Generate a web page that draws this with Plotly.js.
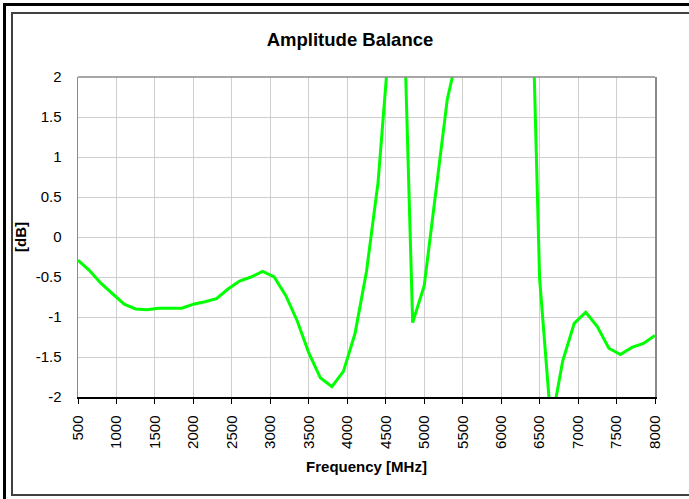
<!DOCTYPE html>
<html>
<head>
<meta charset="utf-8">
<script src="https://cdn.plot.ly/plotly-3.0.1.min.js"></script>
<style>
  html, body { margin: 0; padding: 0; background: #fff; }
  #wrap { position: relative; width: 689px; height: 499px; overflow: hidden; }
  #chart { position: absolute; left: 0; top: 0; width: 689px; height: 499px; }
  #outer { position: absolute; left: 3px; top: 3px; width: 800px; height: 800px;
           border-left: 3px solid #000; border-top: 3px solid #000; pointer-events: none; }
  #inner { position: absolute; left: 11px; top: 12px; width: 800px; height: 480px;
           border-left: 2px solid #404040; border-top: 2px solid #404040; border-bottom: 2px solid #404040; pointer-events: none; }
</style>
</head>
<body>
<div id="wrap">
  <div id="chart"></div>
  <div id="outer"></div>
  <div id="inner"></div>
</div>
<script>
// Frequency [MHz]
const frequency = [500, 650, 800, 950, 1100, 1250, 1400, 1550, 1700, 1850,
  2000, 2150, 2300, 2450, 2600, 2750, 2900, 3050, 3200, 3350,
  3500, 3650, 3800, 3950, 4100, 4250, 4400, 4550, 4700, 4850,
  5000, 5150, 5300, 5450, 5600, 5750, 5900, 6050, 6200, 6350,
  6500, 6650, 6800, 6950, 7100, 7250, 7400, 7550, 7700, 7850, 8000];
// Amplitude balance [dB]
const balance = [-0.29, -0.42, -0.58, -0.71, -0.84, -0.90, -0.91, -0.89, -0.89, -0.89,
  -0.84, -0.81, -0.77, -0.65, -0.55, -0.50, -0.43, -0.50, -0.73, -1.05,
  -1.45, -1.76, -1.87, -1.68, -1.21, -0.43, 0.68, 2.5, 4.05, -1.07,
  -0.61, 0.55, 1.72, 2.36, 3.2, 4.0, 4.6, 5.0, 5.2, 4.96,
  -0.52, -2.35, -1.55, -1.08, -0.94, -1.12, -1.39, -1.47, -1.38, -1.33, -1.23];

const xTicks = [500, 1000, 1500, 2000, 2500, 3000, 3500, 4000, 4500, 5000, 5500, 6000, 6500, 7000, 7500, 8000];
const yTicks = [-2, -1.5, -1, -0.5, 0, 0.5, 1, 1.5, 2];

const font = 'Liberation Sans, Arial, sans-serif';

Plotly.newPlot('chart', [{
  x: frequency,
  y: balance,
  type: 'scatter',
  mode: 'lines',
  line: { color: '#00ff00', width: 3 },
  showlegend: false,
  hoverinfo: 'skip'
}], {
  width: 689,
  height: 499,
  margin: { l: 78, r: 33.5, t: 77, b: 102, pad: 0 },
  paper_bgcolor: 'rgba(0,0,0,0)',
  plot_bgcolor: '#fff',
  font: { family: font, size: 15, color: '#000' },
  title: {
    text: '<b>Amplitude Balance</b>',
    font: { family: font, size: 18.5, color: '#000' },
    x: 0.508, xanchor: 'center',
    y: 0.921, yanchor: 'middle'
  },
  xaxis: {
    range: [500, 8000],
    tickmode: 'array',
    tickvals: xTicks,
    ticktext: xTicks.map(String),
    tickangle: -90,
    ticks: 'outside',
    ticklen: 5,
    tickcolor: '#000',
    tickwidth: 1,
    ticklabelstandoff: 6,
    showline: true,
    linecolor: '#000',
    linewidth: 1.5,
    showgrid: true,
    gridcolor: '#cfcfcf',
    gridwidth: 1,
    zeroline: false,
    tickfont: { family: font, size: 15, color: '#000' },
    title: { text: '<b>Frequency [MHz]</b>', font: { family: font, size: 15, color: '#000' }, standoff: 13 }
  },
  yaxis: {
    range: [-2, 2],
    tickmode: 'array',
    tickvals: yTicks,
    ticktext: yTicks.map(String),
    ticks: '',
    ticklabelstandoff: 12,
    showline: true,
    linecolor: '#8a8a8a',
    linewidth: 1.5,
    mirror: true,
    showgrid: true,
    gridcolor: '#cfcfcf',
    gridwidth: 1,
    zeroline: false,
    tickfont: { family: font, size: 15, color: '#000' },
    title: { text: '<b>[dB]</b>', font: { family: font, size: 15, color: '#000' }, standoff: 5 }
  },
  shapes: [{
    type: 'line', xref: 'paper', yref: 'paper', x0: 0, x1: 1, y0: 1, y1: 1,
    line: { color: '#8a8a8a', width: 1.5 }
  }]
}, { displayModeBar: false, staticPlot: true });
</script>
</body>
</html>
